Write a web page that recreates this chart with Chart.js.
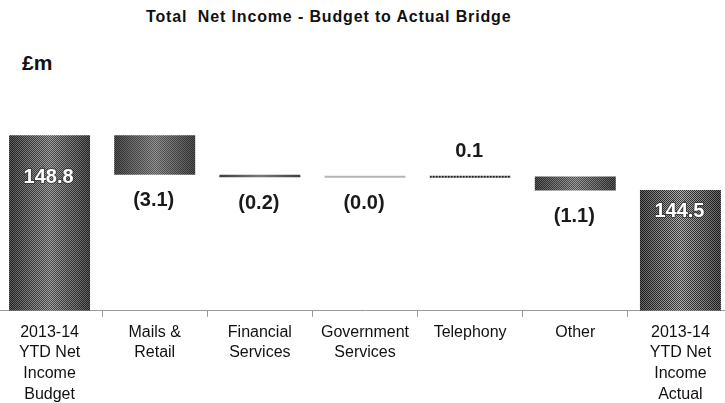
<!DOCTYPE html>
<html>
<head>
<meta charset="utf-8">
<script src="https://cdn.jsdelivr.net/npm/chart.js@4/dist/chart.umd.min.js"></script>
<style>
    html, body { margin: 0; padding: 0; background: #fff; overflow: hidden; width: 725px; height: 403px; }
    body { position: relative; font-family: "Liberation Sans", Arial, sans-serif; }
    #titulo { position: absolute; left: 146px; top: 8px; font-size: 16px; letter-spacing: 0.85px; font-weight: bold; color: #111; white-space: pre; }
    #unidad { position: absolute; left: 22px; top: 51px; font-size: 21px; font-weight: bold; color: #111; }
    #caja { position: absolute; left: -3px; top: 0; width: 736px; height: 410px; }
</style>
</head>
<body>
<div id="titulo">Total  Net Income - Budget to Actual Bridge</div>
<div id="unidad">£m</div>
<div id="caja"><canvas id="chartPuente"></canvas></div>
<script>
const categorias = [
    ['2013-14', 'YTD Net', 'Income', 'Budget'],
    ['Mails &', 'Retail'],
    ['Financial', 'Services'],
    ['Government', 'Services'],
    ['Telephony'],
    ['Other'],
    ['2013-14', 'YTD Net', 'Income', 'Actual']
];
const presupuesto = 148.8;
const movimientos = [-3.1, -0.2, -0.04, 0.1, -1.1];
const real = 144.5;
const etiquetas = ['148.8', '(3.1)', '(0.2)', '(0.0)', '0.1', '(1.1)', '144.5'];

const ejeMin = 135;
const ejeMax = 150;

// barras flotantes: totales desde el eje, movimientos desde el acumulado
const tramos = [[ejeMin, presupuesto]];
let acumulado = presupuesto;
movimientos.forEach(m => {
    tramos.push([acumulado, acumulado + m]);
    acumulado += m;
});
tramos.push([ejeMin, real]);

// relleno tramado (damero) con degradado horizontal, como el original
function trama(ancho, oscuro, claro) {
    const c = document.createElement('canvas');
    c.width = Math.max(1, Math.round(ancho));
    c.height = 2;
    const g = c.getContext('2d');
    for (let i = 0; i < c.width; i++) {
        const t = 1 - Math.abs((i + 0.5) / c.width * 2 - 1);
        for (let j = 0; j < 2; j++) {
            const v = (i + j) % 2 === 0
                ? Math.round(oscuro[0] + (oscuro[1] - oscuro[0]) * t)
                : Math.round(claro[0] + (claro[1] - claro[0]) * t);
            g.fillStyle = `rgb(${v},${v},${v})`;
            g.fillRect(i, j, 1, 1);
        }
    }
    return c;
}

function punteado() {
    const c = document.createElement('canvas');
    c.width = 3;
    c.height = 2;
    const g = c.getContext('2d');
    g.fillStyle = '#222';
    g.fillRect(0, 0, 2, 2);
    g.fillStyle = '#bbb';
    g.fillRect(2, 0, 1, 2);
    return c;
}

const anchoBarra = 0.77;

function relleno(context) {
    const chart = context.chart;
    const x = chart.scales && chart.scales.x;
    const i = context.dataIndex;
    if (i === 3) return '#b4b4b4';
    if (!x || !x.width) return '#555';
    const paso = x.width / categorias.length;
    const w = paso * anchoBarra;
    const izq = x.getPixelForValue(i) - w / 2;
    const fuente = i === 4 ? punteado() : trama(w, [25, 60], [100, 180]);
    const p = chart.ctx.createPattern(fuente, 'repeat');
    p.setTransform(new DOMMatrix().translate(izq, 0));
    return p;
}

const desplazamientoTotales = [42, 22];

const etiquetasPlugin = {
    id: 'etiquetasPuente',
    afterDatasetsDraw(chart) {
        const ctx = chart.ctx;
        const meta = chart.getDatasetMeta(0);
        ctx.save();
        ctx.textAlign = 'center';
        ctx.textBaseline = 'middle';
        ctx.font = 'bold 20px "Liberation Sans", Arial, sans-serif';
        meta.data.forEach((barra, i) => {
            const p = barra.getProps(['x', 'y', 'base'], true);
            const arriba = Math.min(p.y, p.base);
            const abajo = Math.max(p.y, p.base);
            let y;
            if (i === 0 || i === categorias.length - 1) {
                y = arriba + desplazamientoTotales[i === 0 ? 0 : 1];
                ctx.lineWidth = 2;
                ctx.strokeStyle = 'rgba(40,40,40,0.6)';
                ctx.strokeText(etiquetas[i], p.x - 1, y);
                ctx.fillStyle = '#fff';
            } else if (movimientos[i - 1] < 0) {
                y = abajo + 26;
                ctx.fillStyle = '#1a1a1a';
            } else {
                y = arriba - 24;
                ctx.fillStyle = '#1a1a1a';
            }
            ctx.fillText(etiquetas[i], p.x - 1, y);
        });
        ctx.restore();
    }
};

new Chart(document.getElementById('chartPuente'), {
    type: 'bar',
    data: {
        labels: categorias,
        datasets: [{
            data: tramos,
            backgroundColor: relleno,
            borderWidth: 0,
            barPercentage: anchoBarra,
            categoryPercentage: 1,
            minBarLength: 2
        }]
    },
    options: {
        responsive: true,
        maintainAspectRatio: false,
        animation: false,
        layout: { padding: { top: 120, left: 0, right: 0, bottom: 0 } },
        plugins: {
            legend: { display: false },
            tooltip: { enabled: false }
        },
        scales: {
            x: {
                offset: true,
                grid: {
                    offset: true,
                    drawOnChartArea: false,
                    drawTicks: true,
                    tickLength: 6,
                    color: '#9a9a9a'
                },
                border: { display: true, color: '#9a9a9a', width: 1 },
                ticks: {
                    color: '#111',
                    padding: 5,
                    maxRotation: 0,
                    autoSkip: false,
                    font: { family: '"Liberation Sans", Arial, sans-serif', size: 16, lineHeight: 1.3 }
                }
            },
            y: {
                display: false,
                min: ejeMin,
                max: ejeMax
            }
        }
    },
    plugins: [etiquetasPlugin]
});
</script>
</body>
</html>
